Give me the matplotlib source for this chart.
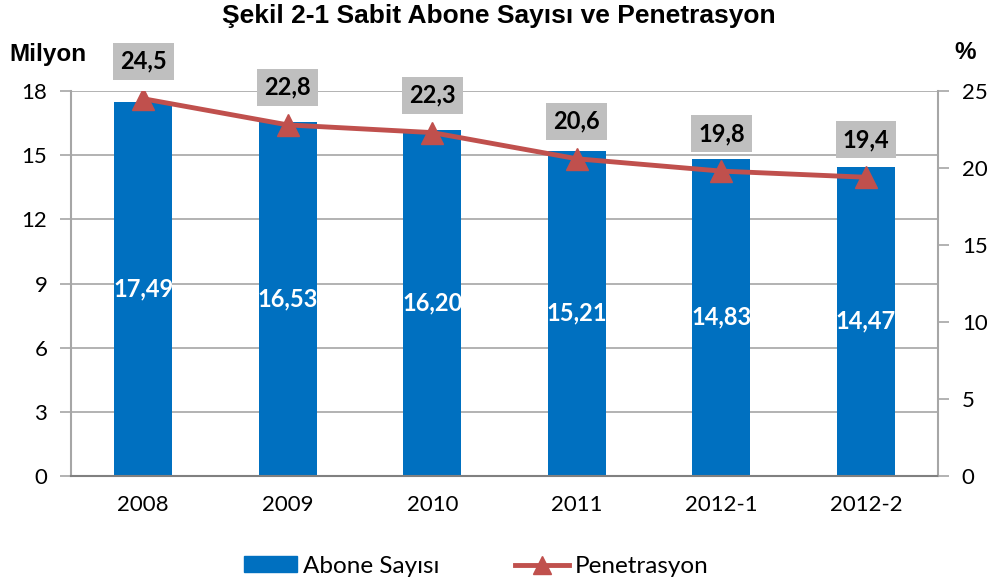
import matplotlib.pyplot as plt
import numpy as np
from matplotlib.lines import Line2D
from matplotlib.patches import Patch

plt.rcParams['font.family'] = ['Lato', 'DejaVu Sans']

years = ['2008', '2009', '2010', '2011', '2012-1', '2012-2']
abone = [17.49, 16.53, 16.20, 15.21, 14.83, 14.47]
penetrasyon = [24.5, 22.8, 22.3, 20.6, 19.8, 19.4]

bar_col = '#0070C0'
line_col = '#C0504D'
grid_col = '#A6A6A6'

fig = plt.figure(figsize=(9.97, 5.85), dpi=100)
ax = fig.add_axes([0.0712, 0.1863, 0.8698, 0.6581])
x = np.arange(len(years))

ax.bar(x, abone, width=0.4, color=bar_col, zorder=2)
ax.set_xlim(-0.5, len(years) - 0.5)
ax.set_ylim(0, 18)
ax.set_yticks(np.arange(0, 19, 3))
ax.set_xticks(x)
ax.set_xticklabels(years)
ax.tick_params(axis='x', length=0, pad=14, labelsize=16)
ax.tick_params(axis='y', length=8, width=1.2, color=grid_col, pad=9, labelsize=16)
ax.yaxis.grid(True, color=grid_col, linewidth=1.2, zorder=0)
ax.set_axisbelow(True)
ax.spines['top'].set_visible(False)
for s in ['left', 'right', 'bottom']:
    ax.spines[s].set_color(grid_col)
    ax.spines[s].set_linewidth(1.5)
ax.spines['bottom'].set_color('#808080')

for xi, v in zip(x, abone):
    ax.text(xi, v / 2, f'{v:.2f}'.replace('.', ','), color='white', fontsize=17,
            fontweight='bold', ha='center', va='center', zorder=3)

ax2 = ax.twinx()
ax2.set_ylim(0, 25)
ax2.set_yticks(np.arange(0, 26, 5))
ax2.tick_params(axis='y', length=8, width=1.2, color=grid_col, pad=9, labelsize=16)
for s in ax2.spines.values():
    s.set_visible(False)
ax2.plot(x, penetrasyon, color=line_col, linewidth=3.5, marker='^', markersize=16,
         zorder=4)
for xi, v in zip(x, penetrasyon):
    ax2.annotate(f'{v:.1f}'.replace('.', ','), (xi, v), xytext=(0, 27),
                 textcoords='offset points', ha='center', va='center',
                 fontsize=17, fontweight='bold',
                 bbox=dict(boxstyle='square,pad=0.3', fc='#BFBFBF', ec='none'))

fig.text(0.5, 0.972, 'Şekil 2-1 Sabit Abone Sayısı ve Penetrasyon', ha='center',
         va='center', fontsize=19, fontweight='bold', family='Liberation Sans')
fig.text(0.048, 0.906, 'Milyon', ha='center', va='center', fontsize=17.5, fontweight='bold',
         family='Liberation Sans')
fig.text(0.968, 0.911, '%', ha='center', va='center', fontsize=17.5, fontweight='bold',
         family='Liberation Sans')

handles = [Patch(color=bar_col, label='Abone Sayısı'),
           Line2D([0], [0], color=line_col, linewidth=3.5, marker='^', markersize=13,
                  label='Penetrasyon')]
fig.legend(handles=handles, loc='center', bbox_to_anchor=(0.4775, 0.032), ncol=2,
           frameon=False, fontsize=17.5, handlelength=2.2, handleheight=0.6,
           handletextpad=0.25, columnspacing=3.1)

fig.savefig('out.png', dpi=100)
